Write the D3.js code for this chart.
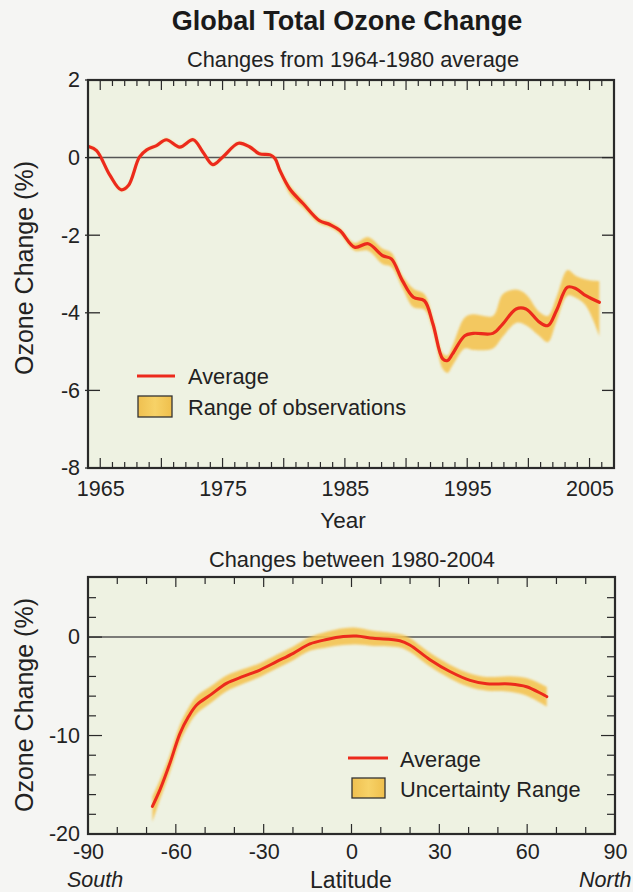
<!DOCTYPE html>
<html>
<head>
<meta charset="utf-8">
<script src="https://cdn.jsdelivr.net/npm/d3@7"></script>
<style>
  html, body { margin: 0; padding: 0; background: #f5f5f3; }
  svg { display: block; font-family: "Liberation Sans", Arial, Helvetica, sans-serif; }
</style>
</head>
<body>
<svg id="chart" width="633" height="892"></svg>
<script>
// ---------- Data: top panel (global total ozone change, % vs 1964-1980 avg) ----------
const years = [1964.1, 1964.7, 1965.8, 1966.7, 1967.3, 1968.2, 1968.8, 1969.6, 1970.4, 1971.5,
  1972.6, 1973.4, 1974.2, 1975.0, 1976.3, 1977.2, 1978.0, 1978.9, 1979.3, 1979.7,
  1980.5, 1981.6, 1982.9, 1983.8, 1984.6, 1985.8, 1986.9, 1988.1, 1988.8, 1989.7,
  1990.6, 1991.5, 1992.2, 1993.0, 1993.4, 1993.8, 1994.8, 1995.5, 1997.1, 1997.9,
  1999.0, 1999.8, 2000.9, 2001.6, 2002.3, 2003.2, 2003.9, 2004.7, 2005.8];
const yearAvg = [0.28, 0.18, -0.46, -0.83, -0.72, 0.01, 0.20, 0.31, 0.46, 0.27,
  0.46, 0.14, -0.18, 0.01, 0.37, 0.28, 0.10, 0.07, -0.03, -0.34,
  -0.81, -1.19, -1.62, -1.73, -1.88, -2.31, -2.22, -2.53, -2.61, -3.17,
  -3.60, -3.69, -4.29, -5.19, -5.23, -5.06, -4.59, -4.53, -4.53, -4.29,
  -3.90, -3.90, -4.24, -4.33, -3.94, -3.34, -3.38, -3.56, -3.73];
const yearLow = [0.25, 0.15, -0.49, -0.86, -0.75, -0.02, 0.17, 0.28, 0.43, 0.24,
  0.43, 0.11, -0.21, -0.02, 0.34, 0.25, 0.07, 0.04, -0.07, -0.40,
  -0.95, -1.30, -1.70, -1.80, -1.97, -2.40, -2.40, -2.75, -2.82, -3.36,
  -3.86, -3.92, -4.46, -5.45, -5.55, -5.36, -4.92, -4.96, -4.92, -4.62,
  -4.26, -4.32, -4.60, -4.76, -4.22, -3.56, -3.62, -3.82, -4.60];
const yearHigh = [0.31, 0.21, -0.43, -0.80, -0.69, 0.04, 0.23, 0.34, 0.49, 0.30,
  0.49, 0.17, -0.15, 0.04, 0.40, 0.31, 0.13, 0.10, 0.01, -0.29,
  -0.72, -1.10, -1.56, -1.66, -1.82, -2.20, -2.05, -2.35, -2.45, -3.04,
  -3.38, -3.52, -4.14, -5.04, -5.10, -4.85, -4.12, -4.04, -4.08, -3.52,
  -3.40, -3.52, -3.98, -4.08, -3.60, -2.90, -3.05, -3.14, -3.18];
const yearTicks = [1965, 1975, 1985, 1995, 2005];
const topYTicks = [2, 0, -2, -4, -6, -8];

// ---------- Data: bottom panel (change 1980-2004 by latitude) ----------
const lats = [-68, -65.4, -62, -58.6, -55.7, -52.9, -48.3, -42.7, -37, -31.3,
  -25.6, -19.9, -14.2, -8.5, -2.8, 1.7, 7.4, 16.5, 19.9, 26.8,
  33.6, 40.5, 46.2, 54.1, 59.8, 66.7];
const latAvg = [-17.2, -15.5, -12.8, -9.8, -8.1, -6.9, -5.9, -4.7, -4.0, -3.35,
  -2.5, -1.65, -0.7, -0.25, 0.05, 0.1, -0.13, -0.37, -0.8, -2.3,
  -3.5, -4.4, -4.75, -4.77, -5.05, -6.05];
const latLow = [-18.8, -16.5, -13.7, -10.7, -9.0, -7.8, -6.75, -5.5, -4.75, -4.05,
  -3.2, -2.35, -1.4, -1.05, -0.8, -0.75, -0.9, -1.05, -1.5, -3.0,
  -4.2, -5.1, -5.45, -5.55, -5.95, -7.05];
const latHigh = [-16.2, -14.5, -11.9, -8.9, -7.2, -6.0, -5.05, -3.9, -3.25, -2.65,
  -1.8, -0.95, 0.0, 0.55, 0.9, 0.95, 0.65, 0.3, -0.1, -1.6,
  -2.8, -3.7, -4.05, -3.97, -4.15, -5.05];
const latTicks = [-90, -60, -30, 0, 30, 60, 90];
const botYTicks = [0, -10, -20];

// ---------- Styles ----------
const RED = "#ec2a1c";
const BAND = "#f4c453";
const PLOTBG = "#eef2e2";
const AXIS = "#2a2a2a";
const TXT = "#222";
const fmt = d => String(d);   // plain hyphen-minus like the reference

const svg = d3.select("#chart");
const defs = svg.append("defs");
defs.append("filter").attr("id", "soft").attr("x", "-10%").attr("y", "-10%")
  .attr("width", "120%").attr("height", "120%")
  .append("feGaussianBlur").attr("stdDeviation", 1.1);
const grad = defs.append("linearGradient").attr("id", "legendFill")
  .attr("x1", "0").attr("x2", "1").attr("y1", "0").attr("y2", "0");
grad.append("stop").attr("offset", "0%").attr("stop-color", "#efc050");
grad.append("stop").attr("offset", "50%").attr("stop-color", "#f7d267");
grad.append("stop").attr("offset", "100%").attr("stop-color", "#efbf4c");

// Titles
svg.append("text").attr("x", 347).attr("y", 30).attr("text-anchor", "middle")
  .attr("font-size", 27).attr("font-weight", "bold").attr("fill", "#1a1a1a")
  .text("Global Total Ozone Change");
svg.append("text").attr("x", 353).attr("y", 67).attr("text-anchor", "middle")
  .attr("font-size", 21.8).attr("fill", TXT).text("Changes from 1964-1980 average");
svg.append("text").attr("x", 352).attr("y", 567).attr("text-anchor", "middle")
  .attr("font-size", 21.8).attr("fill", TXT).text("Changes between 1980-2004");

// ================= TOP PANEL =================
const T = { left: 88, right: 614, top: 80, bottom: 468 };
const xT = d3.scaleLinear().domain([1964, 2007]).range([T.left, T.right]);
const yT = d3.scaleLinear().domain([-8, 2]).range([T.bottom, T.top]);

const gT = svg.append("g");
gT.append("rect").attr("x", T.left).attr("y", T.top)
  .attr("width", T.right - T.left).attr("height", T.bottom - T.top).attr("fill", PLOTBG);

gT.append("line").attr("x1", T.left).attr("x2", T.right)
  .attr("y1", yT(0)).attr("y2", yT(0)).attr("stroke", "#555").attr("stroke-width", 1.5);

const topData = years.map((yr, i) => ({ x: yr, v: yearAvg[i], lo: yearLow[i], hi: yearHigh[i] }));
gT.append("path").datum(topData)
  .attr("d", d3.area().x(d => xT(d.x)).y0(d => yT(d.lo)).y1(d => yT(d.hi)).curve(d3.curveCatmullRom))
  .attr("fill", BAND).attr("opacity", 0.9).attr("filter", "url(#soft)");
gT.append("path").datum(topData)
  .attr("d", d3.line().x(d => xT(d.x)).y(d => yT(d.v)).curve(d3.curveCatmullRom))
  .attr("fill", "none").attr("stroke", RED).attr("stroke-width", 3.2)
  .attr("stroke-linejoin", "round").attr("stroke-linecap", "round");

const yrMinor = d3.range(1965, 2007, 1);
gT.append("g").selectAll("line").data(yrMinor).join("line")
  .attr("x1", d => xT(d)).attr("x2", d => xT(d))
  .attr("y1", T.bottom).attr("y2", d => T.bottom - (d % 5 === 0 ? 10 : 6))
  .attr("stroke", AXIS).attr("stroke-width", 1.2);
gT.append("g").selectAll("line").data(yrMinor).join("line")
  .attr("x1", d => xT(d)).attr("x2", d => xT(d))
  .attr("y1", T.top).attr("y2", d => T.top + (d % 5 === 0 ? 10 : 6))
  .attr("stroke", AXIS).attr("stroke-width", 1.2);
gT.append("g").attr("transform", `translate(0,${T.bottom})`)
  .call(d3.axisBottom(xT).tickValues(yearTicks).tickSize(0).tickPadding(13).tickFormat(fmt))
  .call(g => g.select(".domain").remove())
  .call(g => g.selectAll("text").attr("font-size", 21.5).attr("fill", TXT).attr("font-family", null));
gT.append("g").attr("transform", `translate(${T.left},0)`)
  .call(d3.axisLeft(yT).tickValues(topYTicks).tickSize(0).tickPadding(8).tickFormat(fmt))
  .call(g => g.select(".domain").remove())
  .call(g => g.selectAll("text").attr("font-size", 21.5).attr("fill", TXT).attr("font-family", null));
gT.append("g").selectAll("line").data(topYTicks).join("line")
  .attr("x1", T.left - 3).attr("x2", T.left + 12).attr("y1", d => yT(d)).attr("y2", d => yT(d))
  .attr("stroke", AXIS).attr("stroke-width", 1.3);
gT.append("g").selectAll("line").data(topYTicks).join("line")
  .attr("x1", T.right - 12).attr("x2", T.right).attr("y1", d => yT(d)).attr("y2", d => yT(d))
  .attr("stroke", AXIS).attr("stroke-width", 1.3);
gT.append("rect").attr("x", T.left).attr("y", T.top)
  .attr("width", T.right - T.left).attr("height", T.bottom - T.top)
  .attr("fill", "none").attr("stroke", AXIS).attr("stroke-width", 2.2);

svg.append("text").attr("x", 343).attr("y", 528).attr("text-anchor", "middle")
  .attr("font-size", 22.5).attr("fill", TXT).text("Year");
svg.append("text").attr("transform", `translate(33,268) rotate(-90)`).attr("text-anchor", "middle")
  .attr("font-size", 25).attr("fill", TXT).text("Ozone Change (%)");

// top legend
gT.append("line").attr("x1", 137).attr("x2", 175).attr("y1", 376).attr("y2", 376)
  .attr("stroke", RED).attr("stroke-width", 3);
gT.append("text").attr("x", 188).attr("y", 384).attr("font-size", 21.8).attr("fill", TXT).text("Average");
gT.append("rect").attr("x", 138).attr("y", 396).attr("width", 34).attr("height", 21)
  .attr("fill", "url(#legendFill)").attr("stroke", "#333").attr("stroke-width", 1.3);
gT.append("text").attr("x", 188).attr("y", 415).attr("font-size", 21.8).attr("fill", TXT).text("Range of observations");

// ================= BOTTOM PANEL =================
const B = { left: 88, right: 615, top: 577, bottom: 834 };
const xB = d3.scaleLinear().domain([-90, 90]).range([B.left, B.right]);
const yB = d3.scaleLinear().domain([-20, 6.1]).range([B.bottom, B.top]);

const gB = svg.append("g");
gB.append("rect").attr("x", B.left).attr("y", B.top)
  .attr("width", B.right - B.left).attr("height", B.bottom - B.top).attr("fill", PLOTBG);
gB.append("line").attr("x1", B.left).attr("x2", B.right)
  .attr("y1", yB(0)).attr("y2", yB(0)).attr("stroke", "#555").attr("stroke-width", 1.5);

const botData = lats.map((l, i) => ({ x: l, v: latAvg[i], lo: latLow[i], hi: latHigh[i] }));
gB.append("path").datum(botData)
  .attr("d", d3.area().x(d => xB(d.x)).y0(d => yB(d.lo)).y1(d => yB(d.hi)).curve(d3.curveCatmullRom))
  .attr("fill", BAND).attr("opacity", 0.9).attr("filter", "url(#soft)");
gB.append("path").datum(botData)
  .attr("d", d3.line().x(d => xB(d.x)).y(d => yB(d.v)).curve(d3.curveCatmullRom))
  .attr("fill", "none").attr("stroke", RED).attr("stroke-width", 3)
  .attr("stroke-linejoin", "round").attr("stroke-linecap", "round");

const latMinor = d3.range(-80, 90, 10);
gB.append("g").selectAll("line").data(latMinor).join("line")
  .attr("x1", d => xB(d)).attr("x2", d => xB(d))
  .attr("y1", B.bottom).attr("y2", d => B.bottom - (d % 30 === 0 ? 10 : 7))
  .attr("stroke", AXIS).attr("stroke-width", 1.2);
gB.append("g").selectAll("line").data(latMinor).join("line")
  .attr("x1", d => xB(d)).attr("x2", d => xB(d))
  .attr("y1", B.top).attr("y2", d => B.top + (d % 30 === 0 ? 10 : 7))
  .attr("stroke", AXIS).attr("stroke-width", 1.2);
const vMinor = d3.range(-18, 6, 2);
gB.append("g").selectAll("line").data(vMinor).join("line")
  .attr("x1", B.left).attr("x2", d => B.left + (d % 10 === 0 ? 14 : 8))
  .attr("y1", d => yB(d)).attr("y2", d => yB(d))
  .attr("stroke", AXIS).attr("stroke-width", 1.2);
gB.append("g").selectAll("line").data(vMinor).join("line")
  .attr("x1", B.right).attr("x2", d => B.right - (d % 10 === 0 ? 14 : 8))
  .attr("y1", d => yB(d)).attr("y2", d => yB(d))
  .attr("stroke", AXIS).attr("stroke-width", 1.2);

gB.append("g").attr("transform", `translate(0,${B.bottom})`)
  .call(d3.axisBottom(xB).tickValues(latTicks).tickSize(0).tickPadding(10).tickFormat(fmt))
  .call(g => g.select(".domain").remove())
  .call(g => g.selectAll("text").attr("font-size", 21.5).attr("fill", TXT).attr("font-family", null));
gB.append("g").attr("transform", `translate(${B.left},0)`)
  .call(d3.axisLeft(yB).tickValues(botYTicks).tickSize(0).tickPadding(8).tickFormat(fmt))
  .call(g => g.select(".domain").remove())
  .call(g => g.selectAll("text").attr("font-size", 21.5).attr("fill", TXT).attr("font-family", null));
gB.append("rect").attr("x", B.left).attr("y", B.top)
  .attr("width", B.right - B.left).attr("height", B.bottom - B.top)
  .attr("fill", "none").attr("stroke", AXIS).attr("stroke-width", 2.2);

svg.append("text").attr("x", 351).attr("y", 888).attr("text-anchor", "middle")
  .attr("font-size", 23).attr("fill", TXT).text("Latitude");
svg.append("text").attr("x", 67).attr("y", 887).attr("font-size", 21.5)
  .attr("font-style", "italic").attr("fill", TXT).text("South");
svg.append("text").attr("x", 579).attr("y", 887).attr("font-size", 21.5)
  .attr("font-style", "italic").attr("fill", TXT).text("North");
svg.append("text").attr("transform", `translate(33,705) rotate(-90)`).attr("text-anchor", "middle")
  .attr("font-size", 25).attr("fill", TXT).text("Ozone Change (%)");

// bottom legend
gB.append("line").attr("x1", 348).attr("x2", 388).attr("y1", 758).attr("y2", 758)
  .attr("stroke", RED).attr("stroke-width", 3);
gB.append("text").attr("x", 400).attr("y", 767).attr("font-size", 21.8).attr("fill", TXT).text("Average");
gB.append("rect").attr("x", 352).attr("y", 778).attr("width", 33).attr("height", 20)
  .attr("fill", "url(#legendFill)").attr("stroke", "#333").attr("stroke-width", 1.3);
gB.append("text").attr("x", 400).attr("y", 797).attr("font-size", 21.8).attr("fill", TXT).text("Uncertainty Range");
</script>
</body>
</html>
